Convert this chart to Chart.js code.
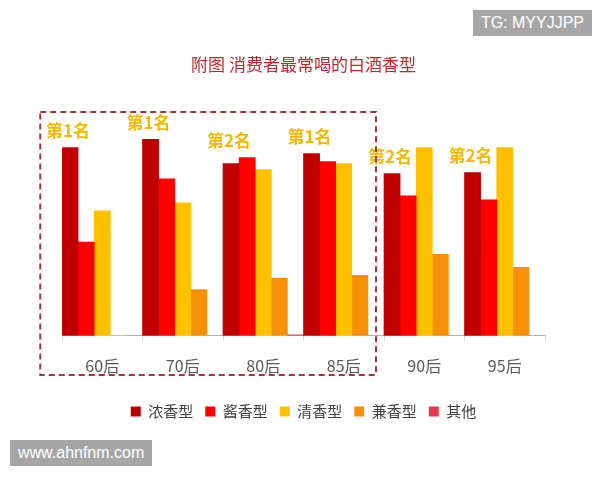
<!DOCTYPE html>
<html>
<head>
<meta charset="utf-8">
<script src="https://cdn.jsdelivr.net/npm/chart.js@4/dist/chart.umd.min.js"></script>
<style>
  body { margin: 0; background: #fff; font-family: "Noto Sans CJK SC", sans-serif; }
  #wrap { position: relative; width: 600px; height: 480px; }
  .tag { position: absolute; background: #a6a6a6; color: #fff; font-family: "Liberation Sans", sans-serif; font-size: 16px; padding: 4px 8px; }
</style>
</head>
<body>
<div id="wrap">
  <canvas id="grafico" width="600" height="480"></canvas>
  <div class="tag" style="right:8px;top:10px;">TG: MYYJJPP</div>
  <div class="tag" style="left:10px;top:440px;">www.ahnfnm.com</div>
</div>
<script>
// dados
const categorias = ['60后', '70后', '80后', '85后', '90后', '95后'];
const nongxiang = [187, 195, 171, 181, 161, 162];
const jiangxiang = [93, 156, 177, 173, 139, 135];
const qingxiang = [124, 132, 165, 171, 187, 187];
const jianxiang = [0, 46, 57, 60, 81, 68];
const qita = [0, 0, 1, 0, 0, 0];
const rotulos = ['第1名', '第1名', '第2名', '第1名', '第2名', '第2名'];

// rótulos "第N名" e a caixa tracejada
const anotacoes = {
    id: 'anotacoes',
    afterDatasetsDraw(chart) {
        const ctx = chart.ctx;
        const meta = chart.getDatasetMeta(0);
        const x = chart.scales.x;
        ctx.save();
        ctx.font = 'bold 17px "Noto Sans CJK SC"';
        ctx.fillStyle = '#F5B800';
        ctx.textAlign = 'center';
        ctx.textBaseline = 'middle';
        meta.data.forEach((barra, i) => {
            const topo = Math.min(barra.y, chart.getDatasetMeta(1).data[i].y);
            ctx.fillText(rotulos[i], barra.x - 2, topo - 17);
        });
        // caixa tracejada em volta dos 4 primeiros grupos
        const esq = x.getPixelForValue(0) - 62;
        const dir = (x.getPixelForValue(3) + x.getPixelForValue(4)) / 2 - 8;
        ctx.setLineDash([6, 4]);
        ctx.strokeStyle = '#A8323A';
        ctx.lineWidth = 2;
        ctx.strokeRect(esq, 112, dir - esq, 263);
        ctx.restore();
    }
};

new Chart(document.getElementById('grafico'), {
    type: 'bar',
    data: {
        labels: categorias,
        datasets: [
            { label: '浓香型', data: nongxiang, backgroundColor: '#C00000' },
            { label: '酱香型', data: jiangxiang, backgroundColor: '#FF0000' },
            { label: '清香型', data: qingxiang, backgroundColor: '#FFC000' },
            { label: '兼香型', data: jianxiang, backgroundColor: '#F79009' },
            { label: '其他', data: qita, backgroundColor: '#E8384F' }
        ]
    },
    options: {
        responsive: false,
        animation: false,
        layout: { padding: { left: 62, right: 55, top: 12, bottom: 51 } },
        datasets: { bar: { categoryPercentage: 1, barPercentage: 1 } },
        plugins: {
            title: {
                display: true,
                text: '附图 消费者最常喝的白酒香型',
                color: '#C0272D',
                font: { size: 17, family: '"Noto Sans CJK SC"', weight: 'normal' },
                padding: { top: 42, bottom: 60 }
            },
            legend: {
                position: 'bottom',
                labels: {
                    boxWidth: 10, boxHeight: 10, padding: 12,
                    color: '#404040',
                    font: { size: 15, family: '"Noto Sans CJK SC"' }
                }
            },
            tooltip: { enabled: false }
        },
        scales: {
            x: {
                grid: { display: true, drawOnChartArea: false, tickLength: 5, color: '#d9d9d9', offset: true },
                border: { color: '#d9d9d9' },
                ticks: { color: '#595959', font: { size: 16, family: '"Noto Sans CJK SC"' }, padding: 16 }
            },
            y: { display: false, min: 0, max: 200 }
        }
    },
    plugins: [anotacoes]
});
</script>
</body>
</html>
